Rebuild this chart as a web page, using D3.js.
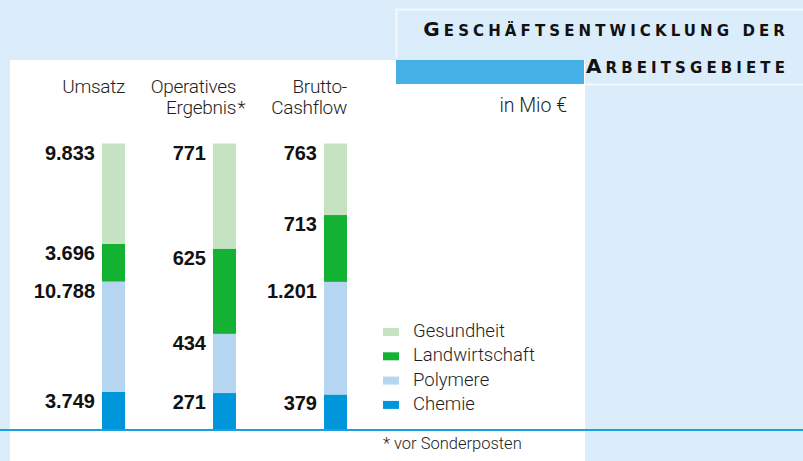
<!DOCTYPE html>
<html><head><meta charset="utf-8">
<script src="https://cdn.jsdelivr.net/npm/d3@7"></script>
<style>body{margin:0;background:#dbedfb;} svg{display:block;}</style>
</head><body>
<svg id="c" width="803" height="461"></svg>
<script>
const categories = ["Umsatz", "Operatives Ergebnis", "Brutto-Cashflow"];
const headerLines = [["Umsatz"], ["Operatives", "Ergebnis"], ["Brutto-", "Cashflow"]];
const headerMarks = ["", "*", ""];
const segments = ["Chemie", "Polymere", "Landwirtschaft", "Gesundheit"];
const chemie = [3749, 271, 379];
const polymere = [10788, 434, 1201];
const landwirtschaft = [3696, 625, 713];
const gesundheit = [9833, 771, 763];
const valueLabels = {
  Chemie: ["3.749", "271", "379"],
  Polymere: ["10.788", "434", "1.201"],
  Landwirtschaft: ["3.696", "625", "713"],
  Gesundheit: ["9.833", "771", "763"]
};
const colors = {Gesundheit:"#c5e2c3", Landwirtschaft:"#13b232", Polymere:"#b6d5f0", Chemie:"#0096db"};
const legendOrder = ["Gesundheit", "Landwirtschaft", "Polymere", "Chemie"];
const titleLines = ["Geschäftsentwicklung der", "Arbeitsgebiete"];
const unitLabel = "in Mio €";
const footnote = "* vor Sonderposten";

const rows = categories.map((c, i) => ({
  cat: c, Chemie: chemie[i], Polymere: polymere[i], Landwirtschaft: landwirtschaft[i], Gesundheit: gesundheit[i], idx: i
}));

const svg = d3.select("#c");
const W = 803, H = 461;
const bg = "#dbedfb";

svg.append("rect").attr("width", W).attr("height", H).attr("fill", bg);
svg.append("rect").attr("x", 10).attr("y", 60).attr("width", 575).attr("height", H - 60).attr("fill", "#fff");
svg.append("path").attr("d", "M396.5,58 V9.5 H803").attr("fill", "none").attr("stroke", "#f4f9fe").attr("stroke-width", 2);
svg.append("line").attr("x1", 585).attr("x2", 803).attr("y1", 84.5).attr("y2", 84.5).attr("stroke", "#f4f9fe").attr("stroke-width", 2);
svg.append("rect").attr("x", 396).attr("y", 60).attr("width", 188).attr("height", 24).attr("fill", "#45b0e6");

function smallCaps(textSel, str, big, small) {
  let buf = "", bufBig = null;
  const flush = () => {
    if (buf) textSel.append("tspan").attr("font-size", bufBig ? big : small).text(buf.toUpperCase());
    buf = "";
  };
  for (const ch of str) {
    const isBig = ch !== ch.toLowerCase();
    if (bufBig !== null && isBig !== bufBig) flush();
    bufBig = isBig;
    buf += ch;
  }
  flush();
}
const titleY = [36, 73];
titleLines.forEach((t, i) => {
  const tx = svg.append("text").attr("x", 789).attr("y", titleY[i]).attr("text-anchor", "end")
    .attr("font-family", "DejaVu Sans").attr("font-weight", "bold").attr("letter-spacing", "4.1px")
    .attr("fill", "#111");
  smallCaps(tx, t, 20, 15);
});

const x = d3.scaleBand().domain(categories).range([102, 347]).paddingInner(88 / 111).paddingOuter(0);
const y = d3.scaleLinear().domain([0, 1]).range([430, 143.5]);

const stack = d3.stack().keys(segments).offset(d3.stackOffsetExpand);
const series = stack(rows);

const g = svg.append("g");
series.forEach(s => {
  g.selectAll(null).data(s).enter().append("rect")
    .attr("x", d => x(d.data.cat))
    .attr("width", x.bandwidth())
    .attr("y", d => y(d[1]))
    .attr("height", d => y(d[0]) - y(d[1]))
    .attr("fill", colors[s.key]);
  g.selectAll(null).data(s).enter().append("text")
    .attr("x", d => x(d.data.cat) - 7)
    .attr("y", d => y(d[1]) + 16)
    .attr("text-anchor", "end")
    .attr("font-family", "Liberation Sans, Arial, sans-serif")
    .attr("font-weight", "bold")
    .attr("font-size", 20)
    .attr("fill", "#111")
    .text(d => valueLabels[s.key][d.data.idx]);
});

const hdrFont = "Roboto, sans-serif";
const txtCol = "#1e1e1e";
const lightW = 300;
categories.forEach((c, i) => {
  const lines = headerLines[i];
  const baseY = lines.length === 1 ? [93] : [93, 114];
  lines.forEach((ln, j) => {
    svg.append("text").attr("x", x(c) + x.bandwidth()).attr("y", baseY[j])
      .attr("text-anchor", "end").attr("font-family", hdrFont).attr("font-weight", lightW)
      .attr("font-size", 19).attr("letter-spacing", "-0.3px").attr("fill", txtCol).text(ln);
  });
  if (headerMarks[i]) {
    svg.append("text").attr("x", x(c) + x.bandwidth() + 1.5).attr("y", baseY[baseY.length - 1])
      .attr("font-family", hdrFont).attr("font-weight", lightW).attr("font-size", 19).attr("fill", txtCol).text(headerMarks[i]);
  }
});

svg.append("text").attr("x", 567).attr("y", 112).attr("text-anchor", "end")
  .attr("font-family", hdrFont).attr("font-weight", lightW).attr("font-size", 19.5).attr("fill", txtCol).text(unitLabel);

const leg = svg.append("g");
legendOrder.forEach((k, i) => {
  const ly = 337 + i * 24.3;
  leg.append("rect").attr("x", 383).attr("y", ly - 9).attr("width", 16).attr("height", 8).attr("fill", colors[k]);
  leg.append("text").attr("x", 413).attr("y", ly).attr("font-family", hdrFont).attr("font-weight", lightW)
    .attr("font-size", 18.5).attr("fill", txtCol).text(k);
});

svg.append("line").attr("x1", 0).attr("x2", W).attr("y1", 430).attr("y2", 430)
  .attr("stroke", "#1a9fe0").attr("stroke-width", 2);

svg.append("text").attr("x", 383).attr("y", 449).attr("font-family", hdrFont).attr("font-weight", lightW)
  .attr("font-size", 16.5).attr("fill", txtCol).text(footnote);
</script>
</body></html>
